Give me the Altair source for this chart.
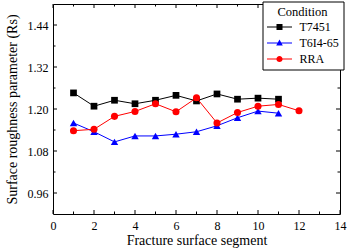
import altair as alt
import pandas as pd

# Surface roughness parameter per fracture surface segment
conditions = ["T7451", "T6I4-65", "RRA"]
colors = ["#000000", "#0000ff", "#ff0000"]
markers = ["square", "triangle-up", "circle"]
marker_sizes = [45, 55, 50]

seg_t7451 = [1, 2, 3, 4, 5, 6, 7, 8, 9, 10, 11]
rs_t7451 = [1.246, 1.208, 1.225, 1.215, 1.225, 1.239, 1.223, 1.243, 1.228, 1.231, 1.228]

seg_t6i4 = [1, 2, 3, 4, 5, 6, 7, 8, 9, 10, 11]
rs_t6i4 = [1.160, 1.135, 1.106, 1.123, 1.123, 1.128, 1.135, 1.152, 1.175, 1.194, 1.188]

seg_rra = [1, 2, 3, 4, 5, 6, 7, 8, 9, 10, 11, 12]
rs_rra = [1.138, 1.142, 1.179, 1.193, 1.215, 1.192, 1.232, 1.160, 1.190, 1.208, 1.213, 1.195]

x_major = [0, 2, 4, 6, 8, 10, 12, 14]
x_minor = [1, 3, 5, 7, 9, 11, 13]
y_major = [0.96, 1.08, 1.20, 1.32, 1.44]
y_minor = [1.02, 1.14, 1.26, 1.38]

series = [seg_t7451, seg_t6i4, seg_rra]
values = [rs_t7451, rs_t6i4, rs_rra]
frames = [pd.DataFrame({"segment": s, "rs": v, "condition": c})
          for c, s, v in zip(conditions, series, values)]
df = pd.concat(frames, ignore_index=True)

W, H = 287, 210
FONT = "Liberation Serif"

x_scale = alt.Scale(domain=[0, 14], nice=False, zero=False)
y_scale = alt.Scale(domain=[0.90, 1.50], nice=False, zero=False)

x_axis = alt.Axis(values=x_major, ticks=False, domain=False, grid=False,
                  labelFlush=False, labelPadding=6, labelFontSize=12,
                  labelFont=FONT, titleFont=FONT,
                  title="Fracture surface segment", titleFontSize=14,
                  titleFontWeight="normal", titlePadding=2)
y_axis = alt.Axis(values=y_major, format=".2f", ticks=False, domain=False,
                  grid=False, labelPadding=5, labelFontSize=12,
                  labelFont=FONT, titleFont=FONT,
                  title="Surface roughness parameter (Rs)", titleFontSize=14,
                  titleFontWeight="normal", titlePadding=8)

x_enc = alt.X("segment:Q", scale=x_scale, axis=x_axis)
y_enc = alt.Y("rs:Q", scale=y_scale, axis=y_axis)

layers = []
for i, frame in enumerate(frames):
    ch = alt.Chart(frame)
    layers.append(ch.mark_line(color=colors[i], strokeWidth=1).encode(x=x_enc, y=y_enc))
    layers.append(ch.mark_point(filled=True, opacity=1, color=colors[i],
                                shape=markers[i], size=marker_sizes[i]).encode(x=x_enc, y=y_enc))

# legend symbols: short line with the series marker in the middle (filled paths)
legend_paths = [
    "M-2.5,-0.1H2.5V0.1H-2.5ZM-0.6,-0.6H0.6V0.6H-0.6Z",
    "M-2.5,-0.1H2.5V0.1H-2.5ZM0,-0.72L0.66,0.5L-0.66,0.5Z",
    "M-2.5,-0.1H2.5V0.1H-2.5ZM0.62,0A0.62,0.62,0,1,1,-0.62,0A0.62,0.62,0,1,1,0.62,0Z",
]
leg = alt.Legend(
    title="Condition", orient="none", legendX=209.5, legendY=-2.5,
    direction="vertical", strokeColor="black", fillColor="white",
    padding=4, titleAnchor="middle", titleFontSize=12.5, titleFont=FONT,
    titleFontWeight="normal", titlePadding=3, labelFontSize=12, labelFont=FONT,
    symbolSize=100, symbolStrokeWidth=0, symbolOffset=7,
    labelOffset=14, rowPadding=4,
)
# zero-size marks: this layer only feeds the legend
legend_layer = alt.Chart(df).mark_point(filled=True, opacity=1, size=0).encode(
    x=x_enc,
    y=y_enc,
    color=alt.Color("condition:N", scale=alt.Scale(domain=conditions, range=colors), legend=leg),
    shape=alt.Shape("condition:N", scale=alt.Scale(domain=conditions, range=legend_paths), legend=leg),
)

# inward-pointing ticks on all four sides of the frame
def x_ticks(vals, length):
    d = pd.DataFrame({"t": vals})
    bottom = alt.Chart(d).mark_rule(color="black", strokeWidth=1).encode(
        x=alt.X("t:Q", scale=x_scale), y=alt.value(H), y2=alt.value(H - length))
    top = alt.Chart(d).mark_rule(color="black", strokeWidth=1).encode(
        x=alt.X("t:Q", scale=x_scale), y=alt.value(0), y2=alt.value(length))
    return [bottom, top]

def y_ticks(vals, length):
    d = pd.DataFrame({"t": vals})
    left = alt.Chart(d).mark_rule(color="black", strokeWidth=1).encode(
        y=alt.Y("t:Q", scale=y_scale), x=alt.value(0), x2=alt.value(length))
    right = alt.Chart(d).mark_rule(color="black", strokeWidth=1).encode(
        y=alt.Y("t:Q", scale=y_scale), x=alt.value(W), x2=alt.value(W - length))
    return [left, right]

ticks = x_ticks(x_major, 4) + x_ticks(x_minor, 2.5) + y_ticks(y_major, 4) + y_ticks(y_minor, 2.5)

chart = alt.layer(*layers, legend_layer, *ticks).properties(
    width=W, height=H,
    autosize=alt.AutoSizeParams(type="none"),
    padding={"left": 53, "top": 4, "right": 7, "bottom": 38},
).configure(font=FONT).configure_view(
    stroke="black", strokeWidth=1
).configure_axis(
    labelColor="black", titleColor="black", labelFont=FONT, titleFont=FONT
).configure_legend(
    labelColor="black", titleColor="black", labelFont=FONT, titleFont=FONT
)

chart.save("out.html", embed_options={"renderer": "svg", "actions": False})
